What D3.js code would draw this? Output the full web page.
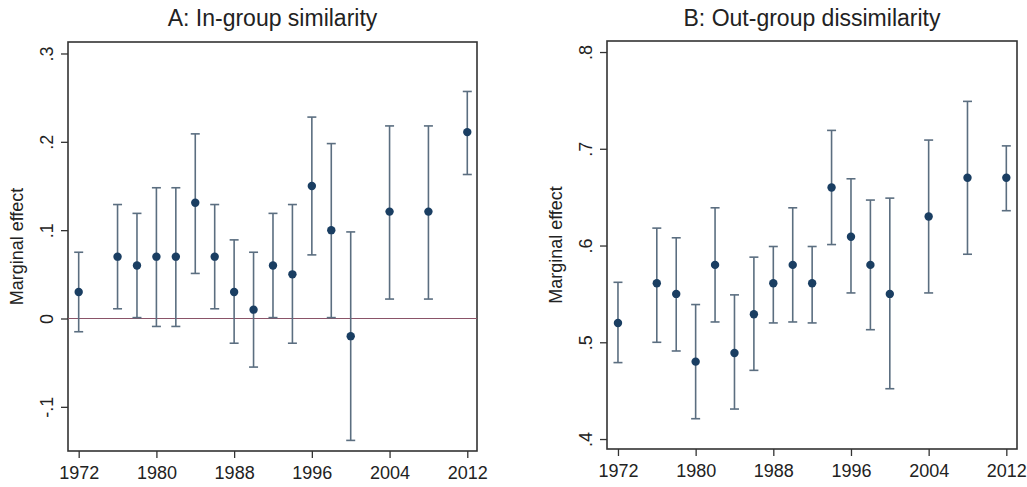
<!DOCTYPE html>
<html>
<head>
<meta charset="utf-8">
<script src="https://cdn.jsdelivr.net/npm/d3@7"></script>
<style>
  body { margin: 0; background: #fff; }
  text { font-family: "Liberation Sans", Arial, sans-serif; fill: #222; }
</style>
</head>
<body>
<svg id="chart" width="1027" height="487"></svg>
<script>
// survey years
const years = [1972, 1976, 1978, 1980, 1982, 1984, 1986, 1988, 1990, 1992, 1994, 1996, 1998, 2000, 2004, 2008, 2012]
const xTicks = [1972, 1980, 1988, 1996, 2004, 2012]

// A: in-group similarity
const inEst = [0.03, 0.07, 0.06, 0.07, 0.07, 0.131, 0.07, 0.03, 0.01, 0.06, 0.05, 0.15, 0.10, -0.02, 0.121, 0.121, 0.211]
const inLo  = [-0.015, 0.011, 0.001, -0.009, -0.009, 0.051, 0.011, -0.028, -0.055, 0.001, -0.028, 0.072, 0.001, -0.138, 0.022, 0.022, 0.163]
const inHi  = [0.075, 0.129, 0.119, 0.148, 0.148, 0.209, 0.129, 0.089, 0.075, 0.119, 0.129, 0.228, 0.198, 0.098, 0.218, 0.218, 0.257]
const inTicks = [-0.1, 0, 0.1, 0.2, 0.3]

// B: out-group dissimilarity
const outEst = [0.52, 0.561, 0.55, 0.48, 0.58, 0.489, 0.529, 0.561, 0.58, 0.561, 0.66, 0.609, 0.58, 0.55, 0.63, 0.67, 0.67]
const outLo  = [0.479, 0.50, 0.491, 0.421, 0.521, 0.431, 0.471, 0.52, 0.521, 0.52, 0.601, 0.551, 0.513, 0.452, 0.551, 0.591, 0.636]
const outHi  = [0.562, 0.618, 0.608, 0.539, 0.639, 0.549, 0.588, 0.599, 0.639, 0.599, 0.719, 0.669, 0.647, 0.649, 0.709, 0.749, 0.703]
const outTicks = [0.4, 0.5, 0.6, 0.7, 0.8]

const svg = d3.select("#chart")

// stata style: .3, -.1, 0
const fmt = v => {
    if (Math.abs(v) < 1e-9) return "0"
    const s = Math.abs(v).toFixed(1).replace(/^0/, "")
    return (v < 0 ? "-" : "") + s
}

function drawPanel(opt) {
    const data = years.map((y, i) => ({year: y, est: opt.est[i], lo: opt.lo[i], hi: opt.hi[i]}))

    const x = d3.scaleLinear().domain(opt.xDomain).range([opt.left, opt.right])
    const y = d3.scaleLinear().domain(opt.yDomain).range([opt.bottom, opt.top])

    const g = svg.append("g")

    // frame
    g.append("rect")
        .attr("x", opt.left).attr("y", opt.top)
        .attr("width", opt.right - opt.left).attr("height", opt.bottom - opt.top)
        .attr("fill", "none").attr("stroke", "#333").attr("stroke-width", 1.6)

    if (opt.zeroLine) {
        g.append("line")
            .attr("x1", opt.left).attr("x2", opt.right)
            .attr("y1", y(0)).attr("y2", y(0))
            .attr("stroke", "#8a5468").attr("stroke-width", 1.2)
    }

    // x axis
    const xAxis = g.append("g")
        .attr("transform", `translate(0,${opt.bottom})`)
        .call(d3.axisBottom(x).tickValues(xTicks).tickFormat(d3.format("d")).tickSize(7).tickSizeOuter(0))
    xAxis.select(".domain").remove()
    xAxis.selectAll("line").attr("stroke", "#333").attr("stroke-width", 1.3)
    xAxis.selectAll("text").attr("font-size", 18).attr("dy", "1.0em").attr("fill", "#222")

    // y axis
    const yAxis = g.append("g")
        .attr("transform", `translate(${opt.left},0)`)
        .call(d3.axisLeft(y).tickValues(opt.yTicks).tickFormat(fmt).tickSize(7).tickSizeOuter(0))
    yAxis.select(".domain").remove()
    yAxis.selectAll("line").attr("stroke", "#333").attr("stroke-width", 1.3)
    yAxis.selectAll("text")
        .attr("font-size", 18).attr("fill", "#222")
        .attr("x", null).attr("dy", null)
        .attr("text-anchor", "middle")
        .attr("transform", "translate(-20,0) rotate(-90)")
        .attr("dominant-baseline", "middle")

    // y label
    g.append("text")
        .attr("transform", `translate(${opt.left - 50},${(opt.top + opt.bottom) / 2}) rotate(-90)`)
        .attr("text-anchor", "middle").attr("dominant-baseline", "middle")
        .attr("font-size", 18)
        .text("Marginal effect")

    // title
    g.append("text")
        .attr("x", (opt.left + opt.right) / 2).attr("y", 26)
        .attr("text-anchor", "middle").attr("font-size", 23)
        .text(opt.title)

    // error bars
    const cap = 4.5
    const bars = g.append("g").attr("stroke", "#5b6e80").attr("stroke-width", 1.6)
    bars.selectAll(".bar").data(data).join("line")
        .attr("x1", d => x(d.year)).attr("x2", d => x(d.year))
        .attr("y1", d => y(d.lo)).attr("y2", d => y(d.hi))
    bars.selectAll(".capHi").data(data).join("line")
        .attr("x1", d => x(d.year) - cap).attr("x2", d => x(d.year) + cap)
        .attr("y1", d => y(d.hi)).attr("y2", d => y(d.hi))
    bars.selectAll(".capLo").data(data).join("line")
        .attr("x1", d => x(d.year) - cap).attr("x2", d => x(d.year) + cap)
        .attr("y1", d => y(d.lo)).attr("y2", d => y(d.lo))

    // point estimates
    g.selectAll(".pt").data(data).join("circle")
        .attr("cx", d => x(d.year)).attr("cy", d => y(d.est))
        .attr("r", 4.2)
        .attr("fill", "#1a3e62")
}

drawPanel({
    title: "A: In-group similarity",
    est: inEst, lo: inLo, hi: inHi, yTicks: inTicks,
    left: 68, right: 477, top: 42, bottom: 451,
    xDomain: [1970.9, 2013.0], yDomain: [-0.15, 0.313],
    zeroLine: true
})

drawPanel({
    title: "B: Out-group dissimilarity",
    est: outEst, lo: outLo, hi: outHi, yTicks: outTicks,
    left: 607, right: 1017, top: 41, bottom: 449,
    xDomain: [1970.87, 2013.1], yDomain: [0.3897, 0.8114],
    zeroLine: false
})
</script>
</body>
</html>
